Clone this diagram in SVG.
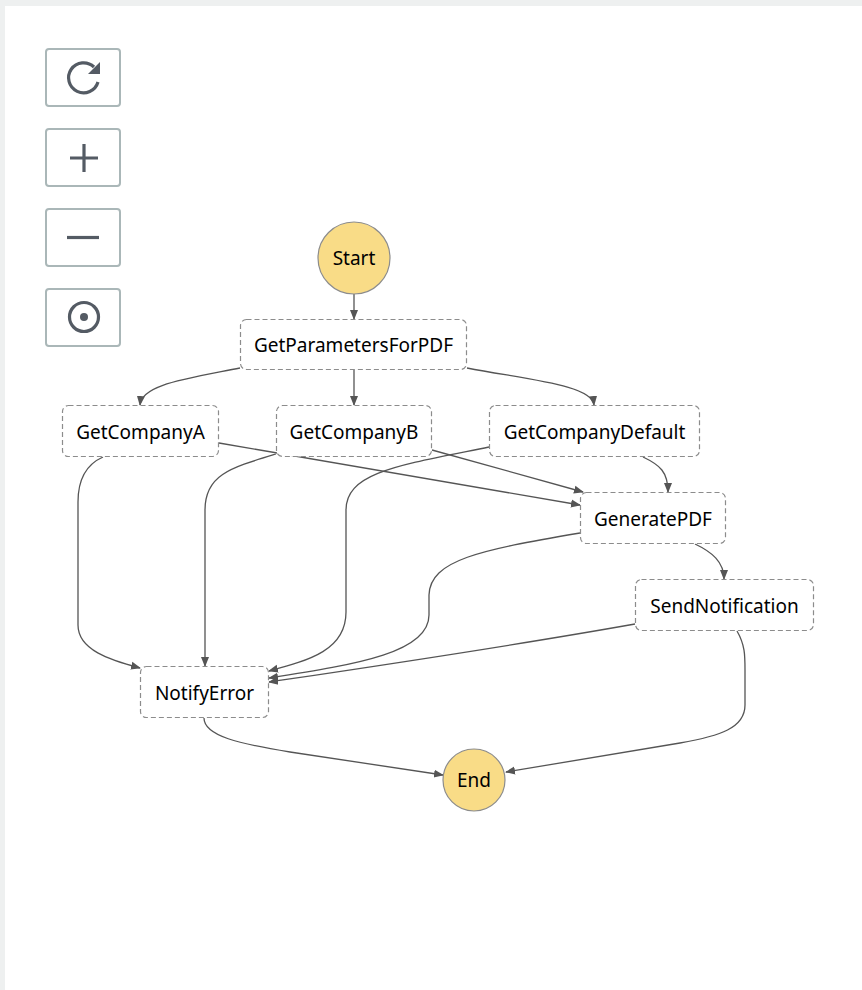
<svg xmlns="http://www.w3.org/2000/svg" width="862" height="990" viewBox="0 0 862 990">
<defs>
<style>
.btn{fill:#fff;stroke:#aab7b8;stroke-width:2}
.ico{fill:none;stroke:#545b64;stroke-width:3.2}
.state{fill:#fff;stroke:#8c8c8c;stroke-width:1.2;stroke-dasharray:5,3}
.term{fill:#f9dc87;stroke:#8c8c8c;stroke-width:1.2}
.lbl{font-family:"Noto Sans","Open Sans",sans-serif;font-size:19px;fill:#000;text-anchor:middle;dominant-baseline:central}
.edge{fill:none;stroke:#555;stroke-width:1.3;marker-end:url(#arr)}
</style>
<marker id="arr" viewBox="0 0 10 10" refX="9" refY="5" markerWidth="10" markerHeight="10" markerUnits="userSpaceOnUse" orient="auto">
<path d="M0,1 L10,5 L0,9 Z" fill="#555"/>
</marker>
</defs>
<rect x="0" y="0" width="862" height="990" fill="#fff"/>
<rect x="0" y="0" width="862" height="6" fill="#eef0f0"/>
<rect x="0" y="0" width="5" height="990" fill="#eef0f0"/>
<g id="controls">
<rect class="btn" x="46" y="49" width="74" height="57" rx="3"/>
<path class="ico" d="M98,82 A15,15 0 1 1 94,67"/>
<path d="M100,62 L100,74 L88,74 Z" fill="#545b64"/>
<rect class="btn" x="46" y="129" width="74" height="57" rx="3"/>
<path class="ico" d="M70,158 H98 M84,144 V172"/>
<rect class="btn" x="46" y="209" width="74" height="57" rx="3"/>
<path class="ico" d="M67,237.5 H99"/>
<rect class="btn" x="46" y="289" width="74" height="57" rx="3"/>
<circle class="ico" cx="84" cy="317" r="14.5"/>
<circle cx="84" cy="317" r="4" fill="#545b64"/>
</g>
<g id="edges">
<path class="edge" d="M354,294 L354,319"/>
<path class="edge" d="M240,368 C180,380 142,385 140,405"/>
<path class="edge" d="M354,370 L354,405"/>
<path class="edge" d="M467,368 C530,380 592,385 594,405"/>
<path class="edge" d="M219,443 L580,505"/>
<path class="edge" d="M432,450 L583,492"/>
<path class="edge" d="M643,457 C660,465 668,472 668,492"/>
<path class="edge" d="M695,544 C712,552 724,562 724,579"/>
<path class="edge" d="M737,631 C745,645 745,655 745,670 L745,705 C745,728 720,736 680,743 L506,772"/>
<path class="edge" d="M204,718 C204,736 240,744 290,752 L443,775"/>
<path class="edge" d="M103,457 C85,465 78,480 78,502 L78,625 C78,650 110,660 140,668"/>
<path class="edge" d="M276,454 C230,468 205,475 205,510 L205,666"/>
<path class="edge" d="M489,447 C400,465 346,472 346,510 L346,612 C346,650 310,660 269,671"/>
<path class="edge" d="M580,533 C480,550 430,560 429,595 L429,615 C429,652 360,664 269,678"/>
<path class="edge" d="M635,624 C500,648 350,670 269,682"/>
</g>
<g id="Start"><circle class="term" cx="354" cy="258" r="36"/><text class="lbl" x="354" y="258">Start</text></g>
<g id="GetParametersForPDF"><rect class="state" x="240.5" y="319.5" width="226" height="50" rx="6"/><text class="lbl" x="353.5" y="345">GetParametersForPDF</text></g>
<g id="GetCompanyA"><rect class="state" x="62.5" y="405.5" width="156" height="51" rx="6"/><text class="lbl" x="140.5" y="432">GetCompanyA</text></g>
<g id="GetCompanyB"><rect class="state" x="276.5" y="405.5" width="155" height="51" rx="6"/><text class="lbl" x="354" y="432">GetCompanyB</text></g>
<g id="GetCompanyDefault"><rect class="state" x="489.5" y="405.5" width="210" height="51" rx="6"/><text class="lbl" x="594.5" y="432">GetCompanyDefault</text></g>
<g id="GeneratePDF"><rect class="state" x="580.5" y="492.5" width="145" height="51" rx="6"/><text class="lbl" x="653" y="519">GeneratePDF</text></g>
<g id="SendNotification"><rect class="state" x="635.5" y="579.5" width="178" height="51" rx="6"/><text class="lbl" x="724.5" y="606">SendNotification</text></g>
<g id="NotifyError"><rect class="state" x="140.5" y="666.5" width="128" height="51" rx="6"/><text class="lbl" x="204.5" y="693">NotifyError</text></g>
<g id="End"><circle class="term" cx="474" cy="780" r="31"/><text class="lbl" x="474" y="780">End</text></g>
</svg>
